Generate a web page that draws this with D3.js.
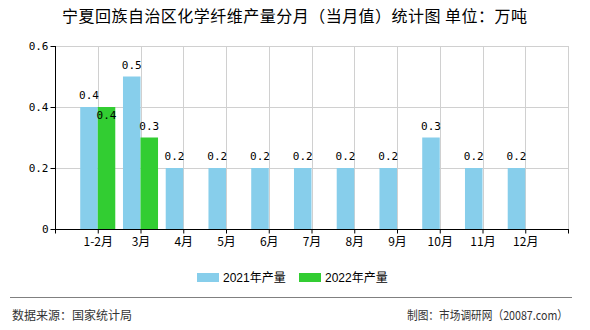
<!DOCTYPE html>
<html>
<head>
<meta charset="utf-8">
<script src="https://cdn.jsdelivr.net/npm/d3@7"></script>
<style>
  html, body { margin: 0; padding: 0; background: #fff; }
  svg { display: block; }
</style>
</head>
<body>
<svg id="chart" width="590" height="330"></svg>
<script>
// ---- data ----
const categories = ["1-2月", "3月", "4月", "5月", "6月", "7月", "8月", "9月", "10月", "11月", "12月"];
const series2021 = [0.4, 0.5, 0.2, 0.2, 0.2, 0.2, 0.2, 0.2, 0.3, 0.2, 0.2];
const series2022 = [0.4, 0.3, null, null, null, null, null, null, null, null, null];
const seriesNames = ["2021年产量", "2022年产量"];
const seriesColors = ["#87CEEB", "#32CD32"];
const yTicks = [0, 0.2, 0.4, 0.6];
const titleText = "宁夏回族自治区化学纤维产量分月（当月值）统计图 单位：万吨";
const sourceText = "数据来源：国家统计局";
const creditText = "制图：市场调研网（20087.com）";

(function () {
const svg = d3.select("#chart");
const pL = 55, pR = 568, pT = 46, pB = 229;
const cjk = "'Noto Sans CJK SC', 'Noto Sans', sans-serif";
const mono = "'DejaVu Sans Mono', monospace";

// x: slots 0..12, categories sit at 1..11
const x = d3.scaleLinear().domain([0, 12]).range([pL, pR]);
const y = d3.scaleLinear().domain([0, 0.6]).range([pB, pT]);
const barW = (x(1) - x(0)) * 0.41;

// title
svg.append("text").attr("x", 294.5).attr("y", 22)
  .attr("text-anchor", "middle").attr("font-family", cjk)
  .attr("font-size", 16).attr("fill", "#000")
  .attr("textLength", 465).attr("lengthAdjust", "spacing").text(titleText);

// grid
const g = svg.append("g");
g.selectAll("line.hg").data(yTicks.filter(d => d > 0)).join("line")
  .attr("x1", pL).attr("x2", pR)
  .attr("y1", d => Math.round(y(d)) + 0.5).attr("y2", d => Math.round(y(d)) + 0.5)
  .attr("stroke", "#d0d0d0").attr("stroke-width", 1);
g.selectAll("line.vg").data(d3.range(1, 13)).join("line")
  .attr("x1", d => Math.round(x(d)) + 0.5).attr("x2", d => Math.round(x(d)) + 0.5)
  .attr("y1", pT).attr("y2", pB)
  .attr("stroke", "#d0d0d0").attr("stroke-width", 1);

// bars
const all = [series2021, series2022];
const labels = [];
all.forEach((vals, si) => {
  const data = vals.map((v, i) => ({ v, i })).filter(d => d.v != null);
  svg.append("g").selectAll("rect").data(data).join("rect")
    .attr("x", d => si === 0 ? x(d.i + 1) - barW : x(d.i + 1))
    .attr("width", barW)
    .attr("y", d => y(d.v))
    .attr("height", d => y(0) - y(d.v))
    .attr("fill", seriesColors[si]);
  data.forEach(d => {
    labels.push({ cx: (si === 0 ? x(d.i + 1) - barW / 2 : x(d.i + 1) + barW / 2), by: y(d.v) - 8, text: String(d.v) });
  });
});

// value labels with simple collision avoidance
const placed = [];
labels.forEach(l => {
  let by = l.by;
  const w = 20, h = 12;
  let clash = true;
  while (clash) {
    clash = placed.some(p => Math.abs(p.cx - l.cx) < w && Math.abs(p.by - by) < h);
    if (clash) by += 20;
  }
  placed.push({ cx: l.cx, by });
  svg.append("text").attr("x", l.cx).attr("y", by)
    .attr("text-anchor", "middle").attr("font-family", mono)
    .attr("font-size", 11).attr("fill", "#000").text(l.text);
});

// axes
const yAxis = d3.axisLeft(y).tickValues(yTicks).tickSize(5)
  .tickFormat(d => d === 0 ? "0" : d3.format(".1f")(d));
const ya = svg.append("g").attr("transform", `translate(${pL + 0.5},0)`).call(yAxis);
ya.select(".domain").attr("stroke", "#000").attr("d", `M0,${pT}V${pB + 0.5}`);
ya.selectAll(".tick line").attr("stroke", "#000");
ya.selectAll(".tick text").attr("font-family", mono).attr("font-size", 11)
  .attr("fill", "#000").attr("x", -7);

const xAxis = d3.axisBottom(x).tickValues(d3.range(0, 13)).tickSize(4)
  .tickFormat(d => (d >= 1 && d <= 11) ? categories[d - 1] : "");
const xa = svg.append("g").attr("transform", `translate(0,${pB + 0.5})`).call(xAxis);
xa.select(".domain").attr("stroke", "#000").attr("d", `M${pL},0H${pR + 1}`);
xa.selectAll(".tick line").attr("stroke", "#000");
xa.selectAll(".tick text").attr("font-family", cjk).attr("font-size", 12)
  .attr("fill", "#000").attr("dy", "0.85em").attr("y", 6);

// legend
const legend = svg.append("g");
const legX = [197, 299];
seriesNames.forEach((n, i) => {
  legend.append("rect").attr("x", legX[i]).attr("y", 273).attr("width", 22).attr("height", 9)
    .attr("fill", seriesColors[i]);
  legend.append("text").attr("x", legX[i] + 26).attr("y", 282)
    .attr("font-family", "'Liberation Sans', 'Noto Sans CJK SC', sans-serif")
    .attr("font-size", 12).attr("fill", "#000").text(n);
});

// footer
svg.append("line").attr("x1", 10).attr("x2", 572).attr("y1", 297.5).attr("y2", 297.5)
  .attr("stroke", "#808080").attr("stroke-width", 1);
svg.append("text").attr("x", 12).attr("y", 320).attr("font-family", cjk)
  .attr("font-size", 12).attr("fill", "#333").text(sourceText);
svg.append("text").attr("x", 407).attr("y", 320)
  .attr("font-family", cjk).attr("font-size", 12).attr("fill", "#333")
  .attr("textLength", 161).attr("lengthAdjust", "spacingAndGlyphs").text(creditText);
})();
</script>
</body>
</html>
